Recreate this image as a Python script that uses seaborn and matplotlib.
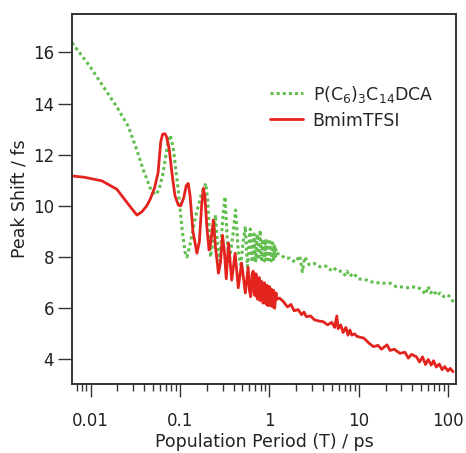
import matplotlib
matplotlib.use("Agg")
import matplotlib.pyplot as plt
from matplotlib.ticker import LogLocator, NullFormatter, FixedLocator
import seaborn as sns
import pandas as pd

# BmimTFSI (red, solid)
bmim_t = [0.0062, 0.0085, 0.0134, 0.0197, 0.026, 0.033, 0.0375, 0.0425, 0.0465, 0.052,
          0.057, 0.061, 0.064, 0.068, 0.071, 0.076, 0.082, 0.088, 0.096, 0.102,
          0.11, 0.118, 0.124, 0.13, 0.14, 0.155, 0.165, 0.175, 0.183, 0.19,
          0.2, 0.212, 0.22, 0.237, 0.25, 0.27, 0.285, 0.3, 0.315, 0.33,
          0.35, 0.38, 0.415, 0.45, 0.49, 0.54, 0.58, 0.6, 0.62, 0.64,
          0.66, 0.675, 0.69, 0.705, 0.72, 0.73, 0.745, 0.76, 0.775, 0.79,
          0.805, 0.82, 0.835, 0.85, 0.865, 0.88, 0.895, 0.91, 0.925, 0.94,
          0.955, 0.97, 0.985, 1.0, 1.015, 1.03, 1.045, 1.06, 1.075, 1.09,
          1.105, 1.12, 1.135, 1.15, 1.17, 1.19, 1.21, 1.3,
          1.44, 1.6, 1.75, 1.9, 2.1, 2.3, 2.45, 2.6, 2.9, 3.2,
          3.6, 4.0, 4.5, 5.0, 5.4, 5.7, 5.9, 6.3, 6.7, 7.2,
          7.6, 8.0, 8.4, 9.0, 9.6, 11.5, 13.0, 14.7, 16.5, 18.0,
          20.8, 22.5, 25.0, 29.0, 33.0, 36.0, 39.0, 44.5, 48.0, 52.0,
          56.0, 60.0, 65.0, 69.0, 74.0, 80.0, 86.0, 92.0, 100.0, 106.0, 114.0]
bmim_shift = [11.17, 11.12, 10.98, 10.65, 10.1, 9.64, 9.77, 10.0, 10.26, 10.7,
              11.3, 12.5, 12.8, 12.82, 12.7, 12.2, 11.2, 10.4, 10.03, 10.0,
              10.3, 10.8, 10.88, 10.4, 9.0, 8.15, 8.6, 10.0, 10.69, 10.4,
              9.2, 8.28, 8.5, 9.45, 8.4, 7.37, 7.8, 8.85, 8.2, 7.15,
              8.55, 7.1, 8.15, 6.8, 7.77, 6.6, 7.6, 6.7, 6.45, 7.3,
              7.45, 6.6, 6.5, 7.35, 7.3, 6.4, 6.35, 7.15, 7.2, 6.3,
              6.4, 7.05, 6.9, 6.2, 6.3, 7.0, 6.85, 6.25, 6.15, 6.9,
              6.7, 6.1, 6.3, 6.85, 6.6, 6.1, 6.25, 6.75, 6.55, 6.05,
              6.2, 6.7, 6.4, 6.0, 6.3, 6.6, 6.35, 6.4,
              6.26, 6.05, 6.15, 5.9, 5.95, 5.75, 5.85, 5.67, 5.7, 5.55,
              5.5, 5.48, 5.35, 5.45, 5.25, 5.7, 5.2, 5.35, 5.05, 5.25,
              4.95, 5.15, 4.95, 5.0, 4.9, 4.83, 4.64, 4.5, 4.55, 4.4,
              4.57, 4.35, 4.4, 4.24, 4.28, 4.05, 4.2, 4.1, 3.9, 4.1,
              3.8, 4.0, 3.78, 3.95, 3.7, 3.82, 3.6, 3.72, 3.55, 3.65, 3.52]

# P(C6)3C14DCA (green, dotted)
dca_t = [0.0062, 0.0099, 0.0139, 0.0197, 0.0265, 0.033, 0.039, 0.0465, 0.0528, 0.058,
         0.065, 0.072, 0.078, 0.084, 0.09, 0.096, 0.105, 0.114, 0.12, 0.13,
         0.15, 0.175, 0.195, 0.205, 0.22, 0.235, 0.25, 0.265, 0.28, 0.3,
         0.32, 0.34, 0.36, 0.39, 0.42, 0.45, 0.48, 0.51, 0.54, 0.555,
         0.57, 0.585, 0.6, 0.615, 0.63, 0.645, 0.66, 0.675, 0.69, 0.705,
         0.72, 0.735, 0.75, 0.765, 0.78, 0.795, 0.81, 0.825, 0.84, 0.855,
         0.87, 0.885, 0.9, 0.915, 0.93, 0.945, 0.96, 0.975, 0.99, 1.005,
         1.02, 1.035, 1.05, 1.065, 1.08, 1.095, 1.11, 1.125, 1.14, 1.155,
         1.17, 1.185, 1.2, 1.35, 1.5, 1.7, 1.95, 2.2, 2.35, 2.5, 2.8, 3.2,
         3.7, 4.3, 4.8, 5.2, 5.8, 6.5, 7.0, 7.4, 8.0, 8.7,
         10.0, 12.4, 13.6, 16.0, 18.8, 22.5, 26.0, 29.0, 35.0, 44.0,
         50.0, 56.0, 60.0, 64.0, 69.0, 75.0, 82.0, 90.0, 99.0, 105.0, 112.0, 121.0]
dca_shift = [16.38, 15.44, 14.66, 13.87, 13.1, 12.18, 11.4, 10.7, 10.43, 10.6,
             11.3, 12.3, 12.77, 12.3, 11.4, 10.6, 9.2, 8.2, 8.0, 8.5,
             9.6, 10.5, 10.88, 10.2, 8.0, 8.6, 9.65, 8.4, 7.85, 9.4,
             10.36, 8.6, 7.9, 8.8, 9.84, 8.2, 7.7, 8.6, 9.2, 8.3,
             7.63, 8.0, 8.9, 9.1, 8.2, 7.8, 8.5, 8.9, 8.1, 7.8,
             8.6, 8.9, 8.0, 7.9, 8.8, 9.05, 8.1, 7.9, 8.6, 8.7,
             7.95, 7.85, 8.6, 8.7, 7.95, 7.9, 8.55, 8.6, 7.9, 7.95,
             8.6, 8.5, 7.85, 7.9, 8.5, 8.55, 7.9, 8.0, 8.5, 8.4,
             7.95, 8.3, 8.15, 8.1, 7.95, 7.96, 7.8, 8.05, 7.43, 8.0, 7.7, 7.75,
             7.62, 7.65, 7.5, 7.6, 7.45, 7.45, 7.3, 7.45, 7.25, 7.37,
             7.15, 7.1, 7.04, 7.0, 6.98, 6.98, 6.85, 6.84, 6.8, 6.84,
             6.75, 6.55, 6.85, 6.6, 6.7, 6.5, 6.6, 6.45, 6.52, 6.45, 6.3, 6.2]

label_dca = "P(C$_6$)$_3$C$_{14}$DCA"
label_bmim = "BmimTFSI"

sns.set_style("ticks")
plt.rcParams["font.family"] = ["DejaVu Sans"]
plt.rcParams["mathtext.default"] = "regular"

fig = plt.figure(figsize=(4.66, 4.53), dpi=100)
ax = fig.add_axes([72 / 466, 69 / 453, 384 / 466, 370 / 453])

dca = pd.DataFrame({"t": dca_t, "shift": dca_shift})
bmim = pd.DataFrame({"t": bmim_t, "shift": bmim_shift})

sns.lineplot(data=dca, x="t", y="shift", ax=ax, color="#62bf4f", lw=2.2,
             linestyle=(0, (1, 1)), sort=False, estimator=None, label=label_dca)
sns.lineplot(data=bmim, x="t", y="shift", ax=ax, color="#e3231d", lw=2.0,
             sort=False, estimator=None, label=label_bmim)

ax.set_xscale("log")
ax.set_xlim(0.0062, 123)
ax.set_ylim(3.04, 17.5)
ax.xaxis.set_major_locator(FixedLocator([0.01, 0.1, 1, 10, 100]))
ax.set_xticklabels(["0.01", "0.1", "1", "10", "100"])
ax.xaxis.set_minor_locator(LogLocator(base=10, subs=range(2, 10), numticks=20))
ax.xaxis.set_minor_formatter(NullFormatter())
ax.set_yticks([4, 6, 8, 10, 12, 14, 16])

for s in ax.spines.values():
    s.set_linewidth(1.4)
    s.set_color("#333333")
ax.tick_params(axis="both", which="major", direction="out", width=1.0,
               colors="#333333", labelcolor="#222222", labelsize=12)
ax.tick_params(axis="x", which="major", length=9.5, pad=11)
ax.tick_params(axis="y", which="major", length=10, pad=3)
ax.tick_params(axis="x", which="minor", length=5, width=1.0, color="#333333")

ax.set_xlabel("Population Period (T) / ps", fontsize=12.5, color="#222222", labelpad=2)
ax.set_ylabel("Peak Shift / fs", fontsize=12.5, color="#222222", labelpad=3)

ax.legend(loc="upper left", bbox_to_anchor=(0.516, 0.812), frameon=False,
          fontsize=12.5, borderpad=0, borderaxespad=0, handlelength=1.9,
          handletextpad=0.55, labelspacing=0.4)

fig.savefig("out.png", dpi=100)
